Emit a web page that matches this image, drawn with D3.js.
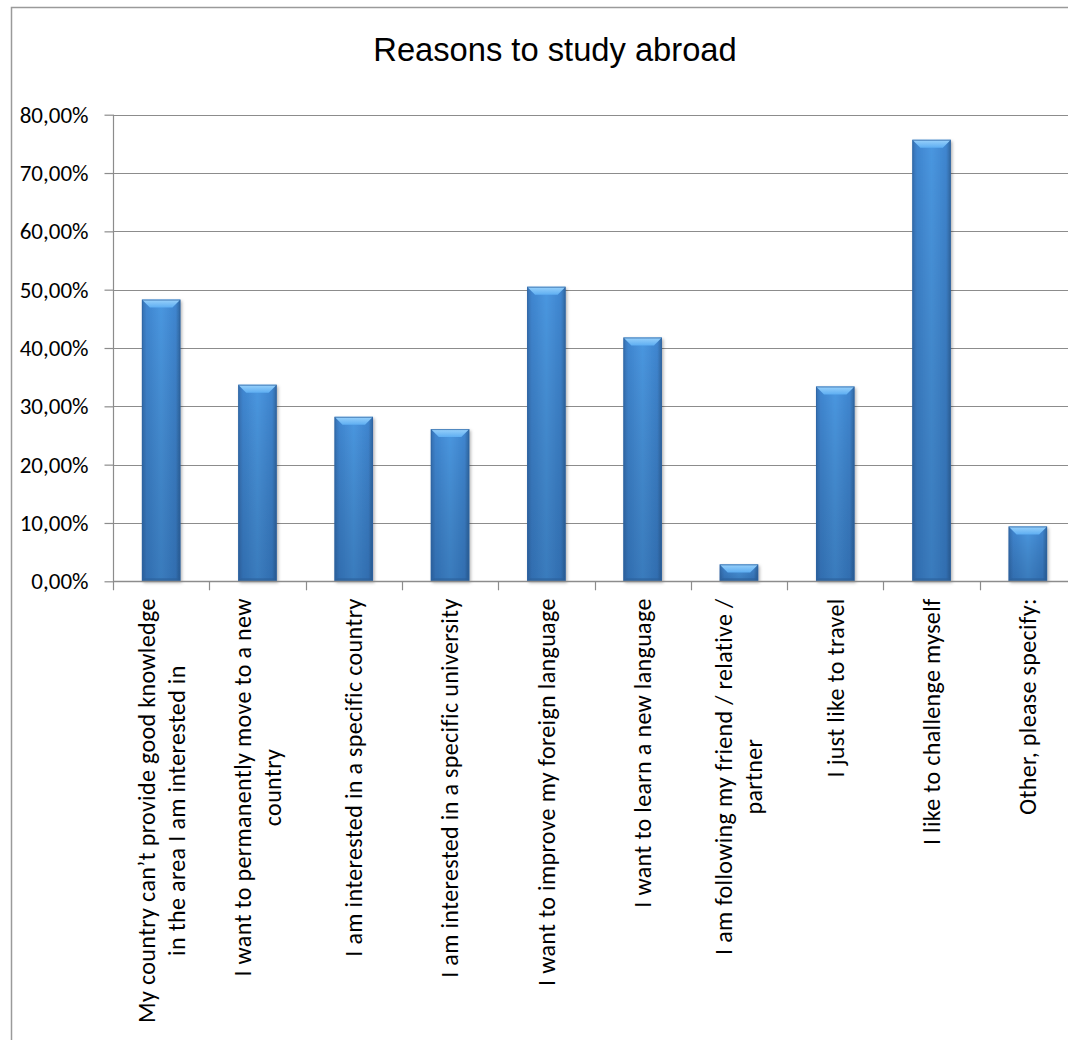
<!DOCTYPE html>
<html>
<head>
<meta charset="utf-8">
<script src="https://cdn.jsdelivr.net/npm/d3@7"></script>
<style>
  html, body { margin: 0; padding: 0; background: #fff; }
  svg { display: block; }
</style>
</head>
<body>
<svg id="chart" width="1068" height="1040"></svg>
<script>
// Survey answers: why students want to study abroad (share of respondents)
const categories = [
  ["My country can\u2019t provide good knowledge", "in the area I am interested in"],
  ["I want to permanently move to a new", "country"],
  ["I am interested in a specific country"],
  ["I am interested in a specific university"],
  ["I want to improve my foreign language"],
  ["I want to learn a new language"],
  ["I am following my friend / relative /", "partner"],
  ["I just like to travel"],
  ["I like to challenge myself"],
  ["Other, please specify:"]
];
const shares = [48.3, 33.7, 28.2, 26.1, 50.5, 41.8, 2.9, 33.4, 75.7, 9.4];
const yTicks = [0, 10, 20, 30, 40, 50, 60, 70, 80];
const chartTitle = "Reasons to study abroad";

const svg = d3.select("#chart");
const labelFont = "Carlito, Lato, 'Open Sans', sans-serif";

// outer chart frame
svg.append("rect")
  .attr("x", 11.5).attr("y", 7.5)
  .attr("width", 1120).attr("height", 1100)
  .attr("fill", "#fff").attr("stroke", "#9a9a9a").attr("stroke-width", 1.5);

const plot = { left: 113, right: 1076, top: 114.7, bottom: 581.3 };

const x = d3.scaleBand()
  .domain(d3.range(categories.length))
  .range([plot.left, plot.right])
  .paddingInner(0.6).paddingOuter(0.3);

const y = d3.scaleLinear().domain([0, 80]).range([plot.bottom, plot.top]);

// title
svg.append("text")
  .attr("x", 555).attr("y", 61)
  .attr("text-anchor", "middle")
  .attr("font-family", "'Liberation Sans', Arial, sans-serif")
  .attr("font-size", 32.7)
  .attr("fill", "#000")
  .text(chartTitle);

// gradients for the bevelled bars
const defs = svg.append("defs");
const side = defs.append("linearGradient").attr("id", "barSide")
  .attr("x1", 0).attr("x2", 1).attr("y1", 0).attr("y2", 0);
[[0, "#356fb0"], [0.12, "#3f85cf"], [0.5, "#4a97e0"], [0.88, "#3f85cf"], [1, "#30669f"]]
  .forEach(([o, c]) => side.append("stop").attr("offset", o).attr("stop-color", c));
const shade = defs.append("linearGradient").attr("id", "barShade")
  .attr("x1", 0).attr("x2", 0).attr("y1", 0).attr("y2", 1);
[[0, "#000", 0], [1, "#001a40", 0.22]]
  .forEach(([o, c, a]) => shade.append("stop").attr("offset", o).attr("stop-color", c).attr("stop-opacity", a));
const topBevel = defs.append("linearGradient").attr("id", "barTop")
  .attr("x1", 0).attr("x2", 0).attr("y1", 0).attr("y2", 1);
[[0, "#9ad2fb"], [1, "#5eaef2"]]
  .forEach(([o, c]) => topBevel.append("stop").attr("offset", o).attr("stop-color", c));
const shadow = defs.append("filter").attr("id", "barShadow")
  .attr("x", "-30%").attr("y", "-10%").attr("width", "160%").attr("height", "130%");
shadow.append("feDropShadow").attr("dx", 1.5).attr("dy", 1.5).attr("stdDeviation", 1.5)
  .attr("flood-color", "#000").attr("flood-opacity", 0.3);

// horizontal gridlines
svg.append("g")
  .selectAll("line")
  .data(yTicks.filter(t => t > 0))
  .join("line")
  .attr("x1", plot.left).attr("x2", 1068)
  .attr("y1", d => Math.round(y(d)) + 0.5).attr("y2", d => Math.round(y(d)) + 0.5)
  .attr("stroke", "#8c8c8c").attr("stroke-width", 1.2);

// y axis
const yAxis = svg.append("g")
  .attr("transform", `translate(${plot.left + 0.5},0)`)
  .call(d3.axisLeft(y).tickValues(yTicks).tickSize(9).tickPadding(16)
    .tickFormat(d => d3.format(".2f")(d).replace(".", ",") + "%"));
yAxis.select(".domain").attr("stroke", "#8c8c8c").attr("stroke-width", 1.2)
  .attr("d", `M0,${plot.top}V${plot.bottom + 9}`);
yAxis.selectAll(".tick line").attr("stroke", "#8c8c8c").attr("stroke-width", 1.2);
yAxis.selectAll(".tick text")
  .attr("font-family", labelFont).attr("font-size", 23).attr("fill", "#000");

// bars
const bars = svg.append("g").selectAll("g").data(shares).join("g");
const bw = x.bandwidth();
const bev = 8;
bars.append("rect")
  .attr("x", (d, i) => x(i)).attr("y", d => y(d))
  .attr("width", bw).attr("height", d => y(0) - y(d))
  .attr("fill", "url(#barSide)")
  .attr("filter", "url(#barShadow)");
bars.append("rect")
  .attr("x", (d, i) => x(i)).attr("y", d => y(d))
  .attr("width", bw).attr("height", d => y(0) - y(d))
  .attr("fill", "url(#barShade)");
bars.append("polygon")
  .attr("points", (d, i) => {
    const x0 = x(i), x1 = x(i) + bw, y0 = y(d);
    const h = Math.min(bev, (y(0) - y(d)) / 2);
    return [[x0, y0], [x1, y0], [x1 - h, y0 + h], [x0 + h, y0 + h]].join(" ");
  })
  .attr("fill", "url(#barTop)");
bars.append("polygon")
  .attr("points", (d, i) => {
    const x0 = x(i), x1 = x(i) + bw, yb = y(0);
    const h = Math.min(3, (y(0) - y(d)) / 4);
    return [[x0, yb], [x1, yb], [x1 - h, yb - h], [x0 + h, yb - h]].join(" ");
  })
  .attr("fill", "#2b5f98").attr("opacity", 0.6);
bars.append("rect")
  .attr("x", (d, i) => x(i) + 0.5).attr("y", d => y(d) + 0.5)
  .attr("width", bw - 1).attr("height", d => y(0) - y(d) - 1)
  .attr("fill", "none").attr("stroke", "#2d64a3").attr("stroke-width", 1).attr("stroke-opacity", 0.7);

// x axis baseline with category boundary ticks
const xAxisG = svg.append("g");
xAxisG.append("line")
  .attr("x1", plot.left).attr("x2", 1068)
  .attr("y1", Math.round(y(0)) + 0.5).attr("y2", Math.round(y(0)) + 0.5)
  .attr("stroke", "#8c8c8c").attr("stroke-width", 1.5);
const step = x.step();
xAxisG.selectAll("line.tick")
  .data(d3.range(1, categories.length + 1))
  .join("line").attr("class", "tick")
  .attr("x1", i => Math.round(plot.left + i * step) + 0.5)
  .attr("x2", i => Math.round(plot.left + i * step) + 0.5)
  .attr("y1", y(0)).attr("y2", y(0) + 9)
  .attr("stroke", "#8c8c8c").attr("stroke-width", 1.2);

// rotated category labels, lines centred on each other, block hanging below the axis
const lineGap = 30;
const labels = svg.append("g").selectAll("g")
  .data(categories)
  .join("g")
  .attr("transform", (d, i) => `translate(${x(i) + bw / 2},${y(0) + 17}) rotate(-90)`);
labels.each(function (lines) {
  const g = d3.select(this);
  const texts = g.selectAll("text").data(lines).join("text")
    .attr("y", (t, k) => (k - (lines.length - 1) / 2) * lineGap)
    .attr("dy", "0.35em")
    .attr("text-anchor", "middle")
    .attr("font-family", labelFont).attr("font-size", 24)
    .attr("letter-spacing", 0.35).attr("fill", "#000")
    .text(t => t);
  let maxLen = 0;
  texts.each(function () { maxLen = Math.max(maxLen, this.getComputedTextLength()); });
  texts.attr("x", -maxLen / 2);
});
</script>
</body>
</html>
